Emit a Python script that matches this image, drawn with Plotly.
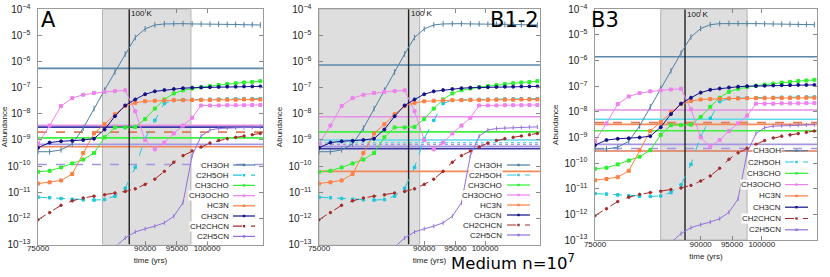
import math
import plotly.graph_objects as go

# ---------------- data ----------------
times = [75000, 76500, 78000, 79500, 81000, 82500, 84000, 85500, 87000, 88500,
         90000, 91500, 93000, 94500, 96000, 97500, 99000, 100500, 102000, 103500,
         105000, 106500, 108000, 109500]

species = ["CH3OH", "C2H5OH", "CH3CHO", "CH3OCHO", "HC3N", "CH3CN", "CH2CHCN", "C2H5CN"]

# log10(abundance)
log_CH3OH = [-9.45, -9.45, -9.38, -9.15, -8.55, -7.80, -7.09, -6.40, -5.71, -5.08, -4.75, -4.60,
             -4.56, -4.55, -4.55, -4.56, -4.56, -4.57, -4.57, -4.58, -4.58, -4.59, -4.59, -4.60]
log_C2H5OH = [-11.19, -11.21, -11.24, -11.27, -11.29, -11.30, -11.28, -11.15, -10.85, -10.05, -8.95, -8.25,
              -7.60, -7.48, -7.46, -7.45, -7.45, -7.44, -7.44, -7.43, -7.43, -7.42, -7.42, -7.42]
log_CH3CHO = [-10.22, -10.18, -10.05, -9.90, -9.75, -9.50, -8.90, -8.52, -8.52, -8.50, -8.20, -7.80,
              -7.45, -7.22, -7.10, -7.03, -6.98, -6.94, -6.90, -6.86, -6.83, -6.80, -6.78, -6.75]
log_CH3OCHO = [-9.15, -8.45, -7.70, -7.40, -7.27, -7.20, -7.16, -7.13, -7.10, -7.90, -9.00, -9.36,
               -9.10, -8.75, -8.45, -8.15, -7.68, -7.68, -7.68, -7.67, -7.67, -7.67, -7.66, -7.66]
log_HC3N = [-10.67, -10.62, -10.55, -10.30, -9.50, -8.75, -8.40, -8.02, -7.70, -7.58, -7.52, -7.50,
            -7.49, -7.48, -7.48, -7.47, -7.47, -7.47, -7.46, -7.46, -7.46, -7.45, -7.45, -7.45]
log_CH3CN = [-9.30, -9.10, -9.05, -9.03, -9.00, -8.95, -8.60, -8.09, -7.68, -7.45, -7.25, -7.14,
             -7.09, -7.05, -7.02, -7.00, -6.99, -6.98, -6.97, -6.96, -6.96, -6.95, -6.95, -6.95]
log_CH2CHCN = [-12.05, -11.78, -11.50, -11.33, -11.22, -11.15, -11.10, -11.03, -10.97, -10.87, -10.70, -10.50,
               -10.20, -9.85, -9.60, -9.42, -9.27, -9.12, -9.02, -8.95, -8.90, -8.85, -8.80, -8.75]
log_C2H5CN = [-16.0, -15.6, -15.2, -14.8, -14.4, -14.0, -13.55, -13.10, -12.75, -12.52, -12.40, -12.30,
              -12.17, -11.92, -11.40, -9.60, -8.85, -8.62, -8.56, -8.54, -8.53, -8.52, -8.51, -8.50]

series_log = [log_CH3OH, log_C2H5OH, log_CH3CHO, log_CH3OCHO, log_HC3N, log_CH3CN, log_CH2CHCN, log_C2H5CN]

x_tick_values = [75000, 90000, 95000, 100000]
x_tick_labels = ["75000", "90000", "95000", "100000"]
time_range = [75000, 110000]
log_abund_range = [-13, -4]
t_100K = 87600

warm_A = [83700, 97300]
warm_B12 = [75000, 89300]
warm_B3 = [84000, 97500]

# observed abundances (horizontal lines), log10
obs_A_species = ["CH3OH", "CH3OCHO", "CH3CN", "CH2CHCN", "CH3CHO", "C2H5CN", "HC3N", "C2H5CN"]
obs_A_log = [-6.26, -8.44, -8.51, -8.70, -8.92, -9.17, -9.26, -9.94]
obs_B12_species = ["CH3OH", "CH3OCHO", "CH3CHO", "C2H5OH", "C2H5OH", "C2H5CN", "C2H5CN", "CH3CN", "HC3N"]
obs_B12_log = [-6.13, -8.11, -8.69, -9.00, -9.10, -9.17, -9.24, -9.33, -10.20]
obs_B3_species = ["CH3OH", "CH3OCHO", "C2H5OH", "CH2CHCN", "HC3N", "CH3CHO", "C2H5CN", "C2H5CN", "CH2CHCN"]
obs_B3_log = [-5.85, -7.93, -8.29, -8.42, -8.49, -8.74, -9.27, -9.43, -9.53]

# ---------------- styles ----------------
W, H = 830, 277
style = {
    "CH3OH":   dict(color="#4e7fa3", dash="solid", symbol="line-ns", size=4),
    "C2H5OH":  dict(color="#1ec8dc", dash="dash", symbol="square", size=2.5),
    "CH3CHO":  dict(color="#2ef02e", dash="solid", symbol="square", size=3),
    "CH3OCHO": dict(color="#ee82ee", dash="solid", symbol="square", size=3),
    "HC3N":    dict(color="#ff7f40", dash="solid", symbol="square", size=3),
    "CH3CN":   dict(color="#12128a", dash="solid", symbol="circle", size=3),
    "CH2CHCN": dict(color="#a52a2a", dash="dash", symbol="circle", size=2.5),
    "C2H5CN":  dict(color="#9370db", dash="solid", symbol="line-ns", size=3),
}
obs_color = {
    "CH3OH": "#5b87a8", "C2H5OH": "#5fd8e8", "CH3CHO": "#3cf03c", "CH3OCHO": "#e690e6",
    "HC3N": "#f48a5a", "CH3CN": "#3a3aa8", "CH2CHCN": "#e07a5a", "C2H5CN": "#a596e4",
}
obs_A_dash = ["solid", "solid", "solid", "dash", "solid", "solid", "solid", "dash"]
obs_B12_dash = ["solid", "solid", "solid", "solid", "dot", "dot", "solid", "solid", "solid"]
obs_B3_dash = ["solid", "solid", "solid", "dash", "solid", "solid", "solid", "dash", "solid"]

panels = [
    dict(sfx="", px=(38, 263), py=(9.3, 244.5), warm=warm_A,
         obs_sp=obs_A_species, obs_val=obs_A_log, obs_dash=obs_A_dash,
         label="A", lab_x=38.5, lab_anchor="left", lab_y=20.5,
         leg=dict(tr=230, s0=233, s1=255, y0=165, dy=10.2), k_y=13),
    dict(sfx="2", px=(319, 540), py=(9.3, 244.5), warm=warm_B12,
         obs_sp=obs_B12_species, obs_val=obs_B12_log, obs_dash=obs_B12_dash,
         label="B1-2", lab_x=541, lab_anchor="right", lab_y=19.5,
         leg=dict(tr=503, s0=507, s1=530, y0=165, dy=10.0), k_y=13),
    dict(sfx="3", px=(595, 817), py=(9.3, 240), warm=warm_B3,
         obs_sp=obs_B3_species, obs_val=obs_B3_log, obs_dash=obs_B3_dash,
         label="B3", lab_x=589, lab_anchor="left", lab_y=20,
         leg=dict(tr=782, s0=785, s1=808, y0=150.7, dy=11.3), k_y=14),
]

FONT = "Liberation Sans, Arial, sans-serif"
fig = go.Figure()
shapes = []
annotations = []

LX0, LX1 = math.log10(time_range[0]), math.log10(time_range[1])
LY0, LY1 = log_abund_range
Y_LO, Y_HI = 10 ** LY0, 10 ** LY1


def px2x(v):
    return v / W


def px2y(v):
    return 1 - v / H


for p in panels:
    xa = "x" + p["sfx"]
    ya = "y" + p["sfx"]
    # warm-up shaded region
    w0, w1 = p["warm"]
    fig.add_trace(go.Scatter(x=[w0, w1, w1, w0, w0], y=[Y_LO, Y_LO, Y_HI, Y_HI, Y_LO],
                             mode="lines", fill="toself", fillcolor="#dedede",
                             line=dict(color="#b4b4b4", width=1), xaxis=xa, yaxis=ya,
                             showlegend=False, hoverinfo="skip"))
    # observed abundance lines
    for sp, v, d in zip(p["obs_sp"], p["obs_val"], p["obs_dash"]):
        fig.add_trace(go.Scatter(x=time_range, y=[10 ** v, 10 ** v], mode="lines",
                                 line=dict(color=obs_color[sp], width=1.2 if d == "dot" else 1.6, dash=d),
                                 xaxis=xa, yaxis=ya, showlegend=False, hoverinfo="skip"))
    # 100 K line
    fig.add_trace(go.Scatter(x=[t_100K, t_100K], y=[Y_LO, Y_HI], mode="lines",
                             line=dict(color="#202020", width=1.4),
                             xaxis=xa, yaxis=ya, showlegend=False, hoverinfo="skip"))
    # model curves
    for name, vals in zip(species, series_log):
        st = style[name]
        fig.add_trace(go.Scatter(
            x=times, y=[10 ** v for v in vals], name=name, mode="lines+markers",
            xaxis=xa, yaxis=ya, showlegend=False,
            line=dict(color=st["color"], width=1.0, dash=st["dash"]),
            marker=dict(symbol=st["symbol"], size=st["size"], color=st["color"],
                        line=dict(width=1, color=st["color"])),
        ))
    annotations.append(dict(text="100 K", xref=xa, yref="paper", x=math.log10(t_100K),
                            y=px2y(p["k_y"]), xanchor="left", yanchor="middle", showarrow=False,
                            font=dict(family=FONT, size=8, color="#111")))
    # panel label
    annotations.append(dict(text=p["label"], xref="paper", yref="paper", x=px2x(p["lab_x"]),
                            y=px2y(p["lab_y"]), xanchor=p["lab_anchor"], yanchor="middle",
                            showarrow=False, font=dict(family="DejaVu Sans", size=21, color="black")))
    # key
    lg = p["leg"]
    for i, name in enumerate(species):
        st = style[name]
        yc = lg["y0"] + i * lg["dy"]
        annotations.append(dict(text=name, xref="paper", yref="paper", x=px2x(lg["tr"]), y=px2y(yc),
                                xanchor="right", yanchor="middle", showarrow=False, bgcolor="white",
                                borderpad=0, font=dict(family=FONT, size=8, color="#222")))
        shapes.append(dict(type="line", xref="paper", yref="paper", x0=px2x(lg["s0"]), x1=px2x(lg["s1"]),
                           y0=px2y(yc), y1=px2y(yc), layer="above",
                           line=dict(color=st["color"], width=1.2, dash=st["dash"])))
        mc = (lg["s0"] + lg["s1"]) / 2
        shapes.append(dict(type="rect", xref="paper", yref="paper", x0=px2x(mc - 1.2), x1=px2x(mc + 1.2),
                           y0=px2y(yc + 1.2), y1=px2y(yc - 1.2), layer="above",
                           fillcolor=st["color"], line=dict(width=0)))
    # axes
    xkey = "xaxis" + p["sfx"]
    ykey = "yaxis" + p["sfx"]
    fig.update_layout({
        xkey: dict(type="log", domain=[px2x(p["px"][0]), px2x(p["px"][1])], anchor=ya,
                   range=[LX0, LX1],
                   tickmode="array", tickvals=x_tick_values, ticktext=x_tick_labels,
                   ticks="inside", ticklen=4, tickcolor="#888", mirror="allticks",
                   showline=True, linecolor="#9a9a9a", linewidth=1, showgrid=False, zeroline=False,
                   tickfont=dict(family=FONT, size=8, color="#222"), ticklabelstandoff=-4,
                   title=dict(text="time (yrs)", font=dict(family=FONT, size=8, color="#222"), standoff=5),
                   automargin=False),
        ykey: dict(type="log", domain=[px2y(p["py"][1]), px2y(p["py"][0])], anchor=xa,
                   range=[LY0, LY1], dtick=1, exponentformat="power",
                   ticks="inside", ticklen=4, tickcolor="#888", mirror="allticks",
                   showline=True, linecolor="#9a9a9a", linewidth=1, showgrid=False, zeroline=False,
                   tickfont=dict(family=FONT, size=8, color="#222"), ticklabelstandoff=5,
                   title=dict(text="Abundance", font=dict(family=FONT, size=8, color="#222"), standoff=4),
                   automargin=False),
    })

annotations.append(dict(text="Medium n=10<sup>7</sup>", xref="paper", yref="paper", x=px2x(449),
                        y=0, xanchor="left", yanchor="bottom", yshift=2, showarrow=False,
                        font=dict(family="DejaVu Sans", size=16.5, color="black")))

fig.update_layout(width=W, height=H, margin=dict(l=0, r=0, t=0, b=0),
                  paper_bgcolor="white", plot_bgcolor="white", showlegend=False,
                  shapes=shapes, annotations=annotations)

fig.write_html("out.html", config={"displayModeBar": False},
               post_script="document.body.style.margin='0';")
